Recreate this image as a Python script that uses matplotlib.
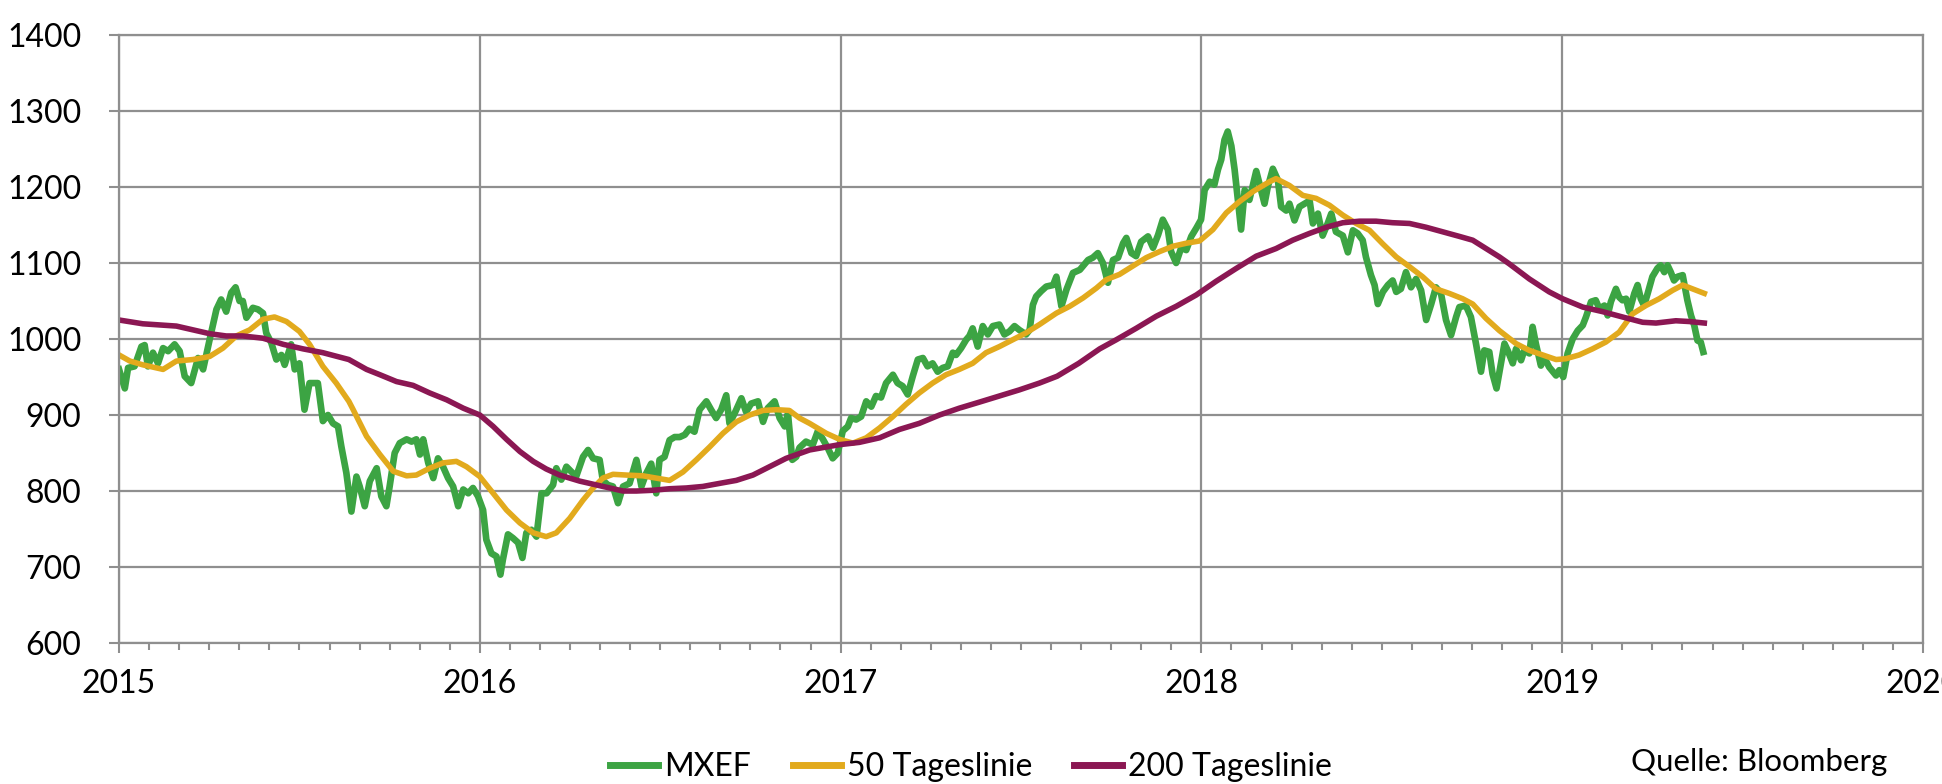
import numpy as np
import matplotlib
matplotlib.use('Agg')
import matplotlib.pyplot as plt
from matplotlib.ticker import MultipleLocator

plt.rcParams['font.family'] = ['Lato', 'DejaVu Sans']

# MXEF index (decimal years, index level)
mxef_t = [2015.000, 2015.016, 2015.025, 2015.043, 2015.062, 2015.071, 2015.080, 2015.094, 2015.108, 2015.122,
          2015.136, 2015.154, 2015.168, 2015.182, 2015.200, 2015.219, 2015.233, 2015.251, 2015.270, 2015.283,
          2015.297, 2015.311, 2015.323, 2015.334, 2015.343, 2015.353, 2015.371, 2015.385, 2015.399, 2015.408,
          2015.422, 2015.436, 2015.450, 2015.459, 2015.477, 2015.487, 2015.500, 2015.514, 2015.528, 2015.551,
          2015.565, 2015.579, 2015.593, 2015.607, 2015.616, 2015.630, 2015.644, 2015.658, 2015.667, 2015.681,
          2015.695, 2015.714, 2015.727, 2015.741, 2015.750, 2015.764, 2015.778, 2015.797, 2015.811, 2015.824,
          2015.834, 2015.843, 2015.857, 2015.871, 2015.884, 2015.898, 2015.912, 2015.926, 2015.940, 2015.954,
          2015.968, 2015.981, 2015.995, 2016.009, 2016.018, 2016.032, 2016.046, 2016.057, 2016.064, 2016.078,
          2016.092, 2016.106, 2016.118, 2016.129, 2016.143, 2016.157, 2016.171, 2016.185, 2016.203, 2016.212,
          2016.226, 2016.240, 2016.267, 2016.286, 2016.300, 2016.314, 2016.332, 2016.341, 2016.355, 2016.369,
          2016.383, 2016.397, 2016.415, 2016.434, 2016.448, 2016.461, 2016.475, 2016.489, 2016.498, 2016.512,
          2016.526, 2016.540, 2016.554, 2016.568, 2016.581, 2016.595, 2016.609, 2016.628, 2016.641, 2016.655,
          2016.669, 2016.683, 2016.692, 2016.706, 2016.725, 2016.738, 2016.752, 2016.771, 2016.785, 2016.798,
          2016.817, 2016.831, 2016.845, 2016.854, 2016.866, 2016.877, 2016.886, 2016.904, 2016.923, 2016.937,
          2016.951, 2016.964, 2016.978, 2016.992, 2017.006, 2017.020, 2017.029, 2017.043, 2017.057, 2017.071,
          2017.085, 2017.098, 2017.112, 2017.126, 2017.145, 2017.158, 2017.172, 2017.186, 2017.200, 2017.214,
          2017.228, 2017.241, 2017.255, 2017.269, 2017.283, 2017.297, 2017.311, 2017.320, 2017.334, 2017.348,
          2017.357, 2017.366, 2017.380, 2017.394, 2017.408, 2017.422, 2017.440, 2017.454, 2017.468, 2017.482,
          2017.495, 2017.514, 2017.524, 2017.533, 2017.542, 2017.556, 2017.570, 2017.589, 2017.598, 2017.612,
          2017.626, 2017.644, 2017.663, 2017.672, 2017.686, 2017.699, 2017.713, 2017.727, 2017.741, 2017.755,
          2017.769, 2017.783, 2017.792, 2017.806, 2017.819, 2017.833, 2017.852, 2017.866, 2017.880, 2017.893,
          2017.907, 2017.916, 2017.930, 2017.944, 2017.958, 2017.972, 2017.986, 2017.999, 2018.009, 2018.023,
          2018.036, 2018.046, 2018.055, 2018.064, 2018.073, 2018.083, 2018.092, 2018.101, 2018.110, 2018.120,
          2018.133, 2018.152, 2018.175, 2018.184, 2018.198, 2018.212, 2018.221, 2018.235, 2018.244, 2018.258,
          2018.272, 2018.286, 2018.300, 2018.309, 2018.323, 2018.336, 2018.350, 2018.360, 2018.373, 2018.392,
          2018.406, 2018.420, 2018.433, 2018.447, 2018.456, 2018.470, 2018.480, 2018.489, 2018.503, 2018.517,
          2018.530, 2018.540, 2018.553, 2018.567, 2018.581, 2018.595, 2018.609, 2018.623, 2018.637, 2018.650,
          2018.664, 2018.678, 2018.692, 2018.706, 2018.715, 2018.733, 2018.747, 2018.761, 2018.775, 2018.784,
          2018.798, 2018.807, 2018.818, 2018.840, 2018.849, 2018.863, 2018.872, 2018.886, 2018.895, 2018.909,
          2018.918, 2018.927, 2018.941, 2018.950, 2018.964, 2018.983, 2018.992, 2019.003, 2019.015, 2019.029,
          2019.043, 2019.057, 2019.066, 2019.080, 2019.093, 2019.103, 2019.117, 2019.126, 2019.135, 2019.149,
          2019.158, 2019.167, 2019.177, 2019.186, 2019.200, 2019.209, 2019.218, 2019.227, 2019.237, 2019.250,
          2019.264, 2019.273, 2019.283, 2019.292, 2019.301, 2019.310, 2019.320, 2019.334, 2019.347, 2019.357,
          2019.366, 2019.375, 2019.384, 2019.391]
mxef_v = [960, 935, 962, 964, 990, 992, 964, 982, 968, 988,
          984, 993, 984, 951, 942, 975, 960, 999, 1039, 1052,
          1036, 1061, 1068, 1050, 1050, 1028, 1041, 1039, 1034, 1008,
          995, 973, 979, 966, 993, 960, 968, 907, 942, 942,
          892, 900, 889, 885, 859, 824, 773, 819, 806, 780,
          813, 830, 793, 780, 806, 850, 863, 868, 865, 868,
          848, 868, 837, 817, 843, 832, 817, 806, 780, 802,
          797, 804, 793, 775, 736, 718, 714, 690, 710, 743,
          738, 732, 712, 745, 749, 740, 797, 797, 808, 830,
          815, 832, 819, 845, 854, 843, 841, 814, 808, 806,
          784, 806, 810, 841, 806, 823, 836, 797, 841, 845,
          867, 871, 871, 874, 882, 878, 907, 918, 907, 896,
          907, 926, 889, 902, 922, 904, 915, 918, 891, 909,
          918, 896, 885, 902, 841, 845, 857, 865, 861, 879,
          868, 857, 843, 850, 879, 885, 896, 894, 898, 918,
          911, 925, 923, 942, 953, 942, 938, 927, 951, 973,
          975, 964, 968, 957, 962, 964, 982, 979, 988, 999,
          1004, 1014, 990, 1017, 1006, 1017, 1019, 1006, 1010, 1017,
          1012, 1006, 1012, 1045, 1056, 1063, 1069, 1071, 1082, 1043,
          1065, 1087, 1091, 1096, 1104, 1107, 1113, 1100, 1074, 1104,
          1107, 1126, 1133, 1113, 1109, 1128, 1135, 1120, 1137, 1157,
          1144, 1115, 1100, 1120, 1117, 1135, 1146, 1157, 1196, 1207,
          1203, 1223, 1236, 1262, 1273, 1254, 1223, 1183, 1144, 1196,
          1183, 1221, 1178, 1200, 1224, 1209, 1174, 1169, 1178, 1156,
          1174, 1178, 1182, 1152, 1165, 1136, 1152, 1165, 1141, 1136,
          1114, 1143, 1139, 1130, 1108, 1084, 1071, 1046, 1062, 1071,
          1077, 1062, 1066, 1088, 1068, 1079, 1064, 1025, 1046, 1068,
          1060, 1025, 1005, 1029, 1042, 1044, 1029, 994, 957, 985,
          983, 954, 935, 994, 985, 968, 987, 972, 985, 981,
          1016, 994, 965, 976, 963, 952, 959, 950, 981, 1000,
          1011, 1018, 1029, 1049, 1051, 1040, 1044, 1031, 1049, 1066,
          1055, 1051, 1053, 1036, 1060, 1071, 1053, 1044, 1060, 1082,
          1093, 1097, 1088, 1097, 1088, 1077, 1082, 1084, 1051, 1031,
          1018, 998, 996, 983]

# 50-day moving average
ma50_t = [2015.000, 2015.030, 2015.066, 2015.122, 2015.159, 2015.205, 2015.251, 2015.288, 2015.325, 2015.362,
          2015.399, 2015.431, 2015.464, 2015.500, 2015.528, 2015.565, 2015.602, 2015.637, 2015.649, 2015.686,
          2015.723, 2015.760, 2015.797, 2015.824, 2015.861, 2015.898, 2015.935, 2015.963, 2016.000, 2016.037,
          2016.074, 2016.111, 2016.148, 2016.184, 2016.212, 2016.249, 2016.286, 2016.314, 2016.341, 2016.369,
          2016.406, 2016.452, 2016.489, 2016.526, 2016.563, 2016.600, 2016.637, 2016.674, 2016.711, 2016.748,
          2016.785, 2016.822, 2016.858, 2016.886, 2016.914, 2016.960, 2016.997, 2017.034, 2017.071, 2017.108,
          2017.145, 2017.181, 2017.218, 2017.255, 2017.292, 2017.329, 2017.366, 2017.403, 2017.440, 2017.477,
          2017.514, 2017.551, 2017.598, 2017.635, 2017.672, 2017.709, 2017.736, 2017.773, 2017.810, 2017.847,
          2017.884, 2017.921, 2017.958, 2017.995, 2018.032, 2018.069, 2018.106, 2018.143, 2018.189, 2018.207,
          2018.244, 2018.281, 2018.318, 2018.355, 2018.392, 2018.429, 2018.466, 2018.503, 2018.540, 2018.577,
          2018.613, 2018.650, 2018.687, 2018.724, 2018.752, 2018.789, 2018.826, 2018.872, 2018.909, 2018.946,
          2018.983, 2019.010, 2019.047, 2019.084, 2019.121, 2019.158, 2019.195, 2019.232, 2019.269, 2019.306,
          2019.334, 2019.361, 2019.394]
ma50_v = [979, 971, 966, 960, 971, 973, 977, 988, 1004, 1012,
          1026, 1029, 1023, 1010, 993, 964, 942, 918, 907, 872,
          848, 826, 820, 821, 830, 837, 839, 832, 819, 797,
          775, 758, 745, 740, 745, 764, 788, 804, 817, 822,
          821, 820, 817, 814, 825, 841, 858, 876, 891, 900,
          906, 907, 906, 896, 889, 876, 868, 863, 870, 883,
          898, 914, 929, 942, 953, 960, 968, 982, 990, 999,
          1008, 1019, 1034, 1043, 1054, 1067, 1078, 1085, 1096, 1107,
          1115, 1122, 1126, 1129, 1144, 1166, 1181, 1194, 1207, 1211,
          1202, 1189, 1185, 1176, 1163, 1152, 1143, 1125, 1108, 1095,
          1082, 1066, 1060, 1053, 1046, 1027, 1011, 994, 985, 979,
          973, 974, 979, 987, 996, 1009, 1033, 1044, 1053, 1064,
          1071, 1066, 1060]

# 200-day moving average
ma200_t = [2015.000, 2015.066, 2015.159, 2015.205, 2015.251, 2015.297, 2015.343, 2015.399, 2015.455, 2015.510,
           2015.565, 2015.637, 2015.686, 2015.723, 2015.769, 2015.815, 2015.861, 2015.908, 2015.954, 2016.000,
           2016.037, 2016.074, 2016.111, 2016.148, 2016.184, 2016.221, 2016.277, 2016.323, 2016.360, 2016.397,
           2016.434, 2016.480, 2016.526, 2016.572, 2016.618, 2016.664, 2016.711, 2016.757, 2016.803, 2016.849,
           2016.914, 2016.997, 2017.052, 2017.108, 2017.163, 2017.218, 2017.274, 2017.329, 2017.385, 2017.440,
           2017.495, 2017.551, 2017.600, 2017.660, 2017.718, 2017.764, 2017.819, 2017.875, 2017.930, 2017.986,
           2018.041, 2018.097, 2018.152, 2018.207, 2018.253, 2018.300, 2018.346, 2018.392, 2018.438, 2018.484,
           2018.530, 2018.577, 2018.623, 2018.669, 2018.715, 2018.752, 2018.789, 2018.826, 2018.853, 2018.909,
           2018.964, 2019.001, 2019.057, 2019.112, 2019.167, 2019.223, 2019.260, 2019.315, 2019.352, 2019.394]
ma200_v = [1025, 1020, 1017, 1012, 1007, 1004, 1004, 1001, 993, 987,
           982, 973, 960, 953, 944, 939, 929, 920, 909, 900,
           885, 868, 852, 839, 829, 821, 813, 808, 804, 800,
           800, 801, 803, 804, 806, 810, 814, 821, 832, 843,
           854, 861, 864, 870, 881, 889, 900, 909, 917, 925,
           933, 942, 951, 968, 987, 999, 1014, 1030, 1043, 1058,
           1076, 1093, 1109, 1119, 1130, 1139, 1147, 1153, 1155, 1155,
           1153, 1152, 1147, 1141, 1135, 1130, 1119, 1108, 1099, 1079,
           1062, 1053, 1042, 1036, 1029, 1022, 1021, 1024, 1023, 1021]

years = [2015, 2016, 2017, 2018, 2019, 2020]
labels = ['MXEF', '50 Tageslinie', '200 Tageslinie']
colors = ['#3ca443', '#e2aa1d', '#8b1753']
grid_c = '#8f8f8f'

fig = plt.figure(figsize=(19.42, 7.84), dpi=100)
ax = fig.add_axes([0.0613, 0.1798, 0.9289, 0.7756])

ax.plot(mxef_t, mxef_v, color=colors[0], linewidth=4.8, solid_joinstyle='round', label=labels[0])
ax.plot(ma50_t, ma50_v, color=colors[1], linewidth=4.0, solid_joinstyle='round', label=labels[1])
ax.plot(ma200_t, ma200_v, color=colors[2], linewidth=4.0, solid_joinstyle='round', label=labels[2])

ax.set_xlim(2015, 2020)
ax.set_ylim(600, 1400)
ax.set_xticks(years)
ax.set_xticklabels([str(y) for y in years])
ax.xaxis.set_minor_locator(MultipleLocator(1 / 12))
ax.set_yticks(range(600, 1401, 100))

ax.grid(True, which='major', color=grid_c, linewidth=1.6)
ax.set_axisbelow(True)
for s in ax.spines.values():
    s.set_color(grid_c)
    s.set_linewidth(1.6)

ax.tick_params(axis='both', which='major', labelsize=23, colors=grid_c, labelcolor='black',
               length=7, width=1.5, direction='out')
ax.tick_params(axis='x', which='major', pad=12)
ax.tick_params(axis='y', which='major', pad=20)
ax.tick_params(axis='x', which='minor', length=5, width=1.5, colors=grid_c, direction='out')

lgd = fig.legend(loc='center', bbox_to_anchor=(0.500, 0.022), ncol=3, frameon=False,
                 fontsize=23, handlelength=1.5, handletextpad=0.2, columnspacing=1.3)
for h in lgd.get_lines():
    h.set_linewidth(5)

fig.text(0.972, 0.028, 'Quelle: Bloomberg', fontsize=22.5, ha='right', va='center')

fig.savefig('out.png', dpi=100)
